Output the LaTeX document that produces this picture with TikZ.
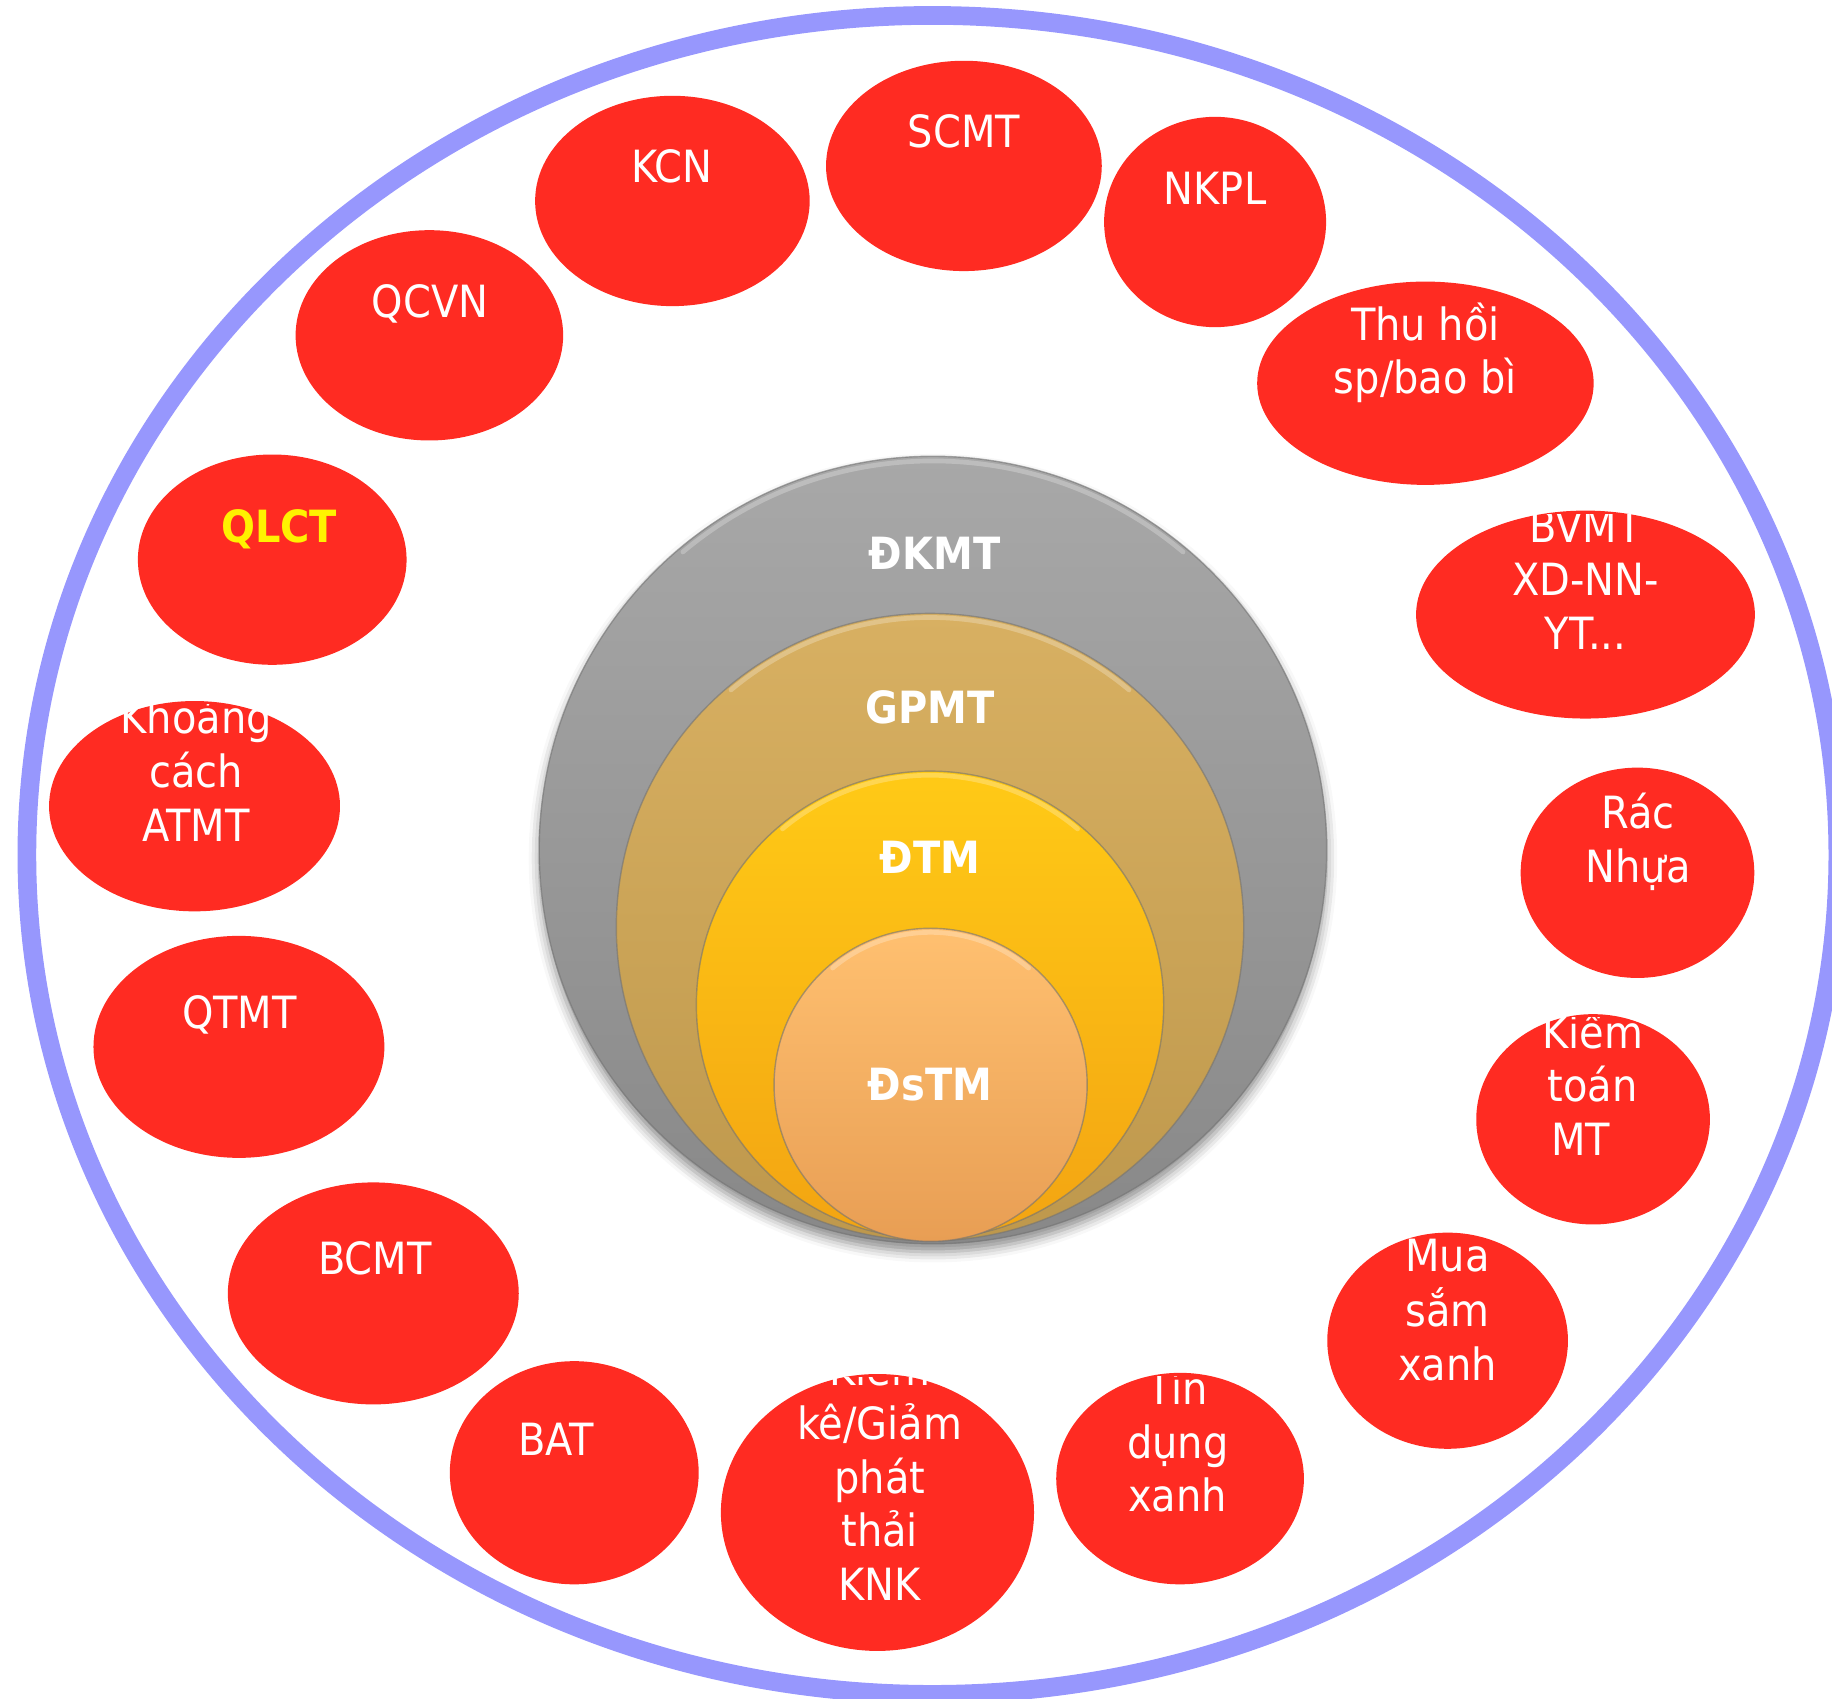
\documentclass[tikz,border=0pt]{standalone}
\usepackage{fontspec}
\setmainfont{DejaVu Sans Condensed}
\usetikzlibrary{shadows.blur}
\definecolor{ringc}{RGB}{151,151,253}
\definecolor{redc}{RGB}{255,43,34}
\definecolor{grayT}{RGB}{168,168,168}
\definecolor{grayB}{RGB}{136,136,136}
\definecolor{tanT}{RGB}{216,176,98}
\definecolor{tanB}{RGB}{190,152,76}
\definecolor{yelT}{RGB}{255,202,22}
\definecolor{yelB}{RGB}{243,164,18}
\definecolor{orT}{RGB}{255,192,112}
\definecolor{orB}{RGB}{232,158,84}
\tikzset{
  lbl/.style={text=white, font=\fontsize{38}{46}\selectfont, inner sep=0pt, anchor=base},
  clbl/.style={text=white, font=\bfseries\fontsize{38}{46}\selectfont, inner sep=0pt, anchor=base},
  edge line/.style={draw=black!55, line width=1.2pt, draw opacity=0.6},
  bevel/.style={white, line width=4pt, opacity=0.25, line cap=round}
}
% name, cx, cy, rx, ry, text x, first baseline, text
\newcommand\redblob[8]{%
  \fill[redc] (#2,#3) ellipse [x radius=#4, y radius=#5];
  \begin{scope}
    \clip (#2-300,#3-#5+3) rectangle (#2+300,#3+#5+20);
    \node[lbl] (#1) at (#6,#7) {\begin{tabular}[t]{@{}c@{}}#8\end{tabular}};
  \end{scope}}
\begin{document}
\begin{tikzpicture}[x=1pt,y=-1pt]
\useasboundingbox (0,0) rectangle (1568,1454);
\clip (0,0) rectangle (1568,1454);
% outer ring
\draw[ringc, line width=16pt] (798,731.7) ellipse [x radius=775, y radius=718.5];
% red ellipses
\redblob{scmt}{825}{142}{118}{90}{825}{126}{SCMT}
\redblob{kcn}{575.5}{172}{117.5}{90}{575}{156}{KCN}
\redblob{nkpl}{1040}{190}{95}{90}{1040}{175}{NKPL}
\redblob{qcvn}{367.5}{287}{114.5}{90}{368}{272}{QCVN}
\redblob{thuhoi}{1220}{328}{144}{87}{1220}{291}{Thu hồi\\sp/bao bì}
\redblob{qlct}{233}{479}{115}{90}{239}{464}{\bfseries\color{yellow}QLCT}
\redblob{bvmt}{1357}{526}{145}{89}{1357}{464}{BVMT\\XD-NN-\\YT...}
\redblob{khoang}{166.5}{690}{124.5}{90}{168}{628}{Khoảng\\cách\\ATMT}
\redblob{rac}{1401.5}{747}{100}{90}{1402}{709}{Rác\\Nhựa}
\redblob{qtmt}{204.5}{896}{124.5}{95}{205}{880}{QTMT}
\redblob{kiemtoan}{1363.5}{958}{100}{90}{1363}{897}{Kiểm\\toán\\MT\hspace*{20pt}}
\redblob{bcmt}{319.5}{1107}{124.5}{95}{321}{1091}{BCMT}
\redblob{muasam}{1239}{1147.5}{103}{92.5}{1239}{1088}{Mua\\sắm\\xanh}
\redblob{bat}{491.5}{1260.5}{106.5}{95.5}{476}{1246}{BAT}
\redblob{kiemke}{751}{1294.5}{134}{118.5}{753}{1186}{Kiểm\\kê/Giảm\\phát\\thải\\KNK}
\redblob{tindung}{1010}{1265.5}{106}{90.5}{1008}{1202}{Tín\\dụng\\xanh}
% central nested circles
\shade[top color=grayT, bottom color=grayB, blur shadow={shadow xshift=0pt, shadow yshift=-7pt, shadow blur radius=9pt, shadow opacity=45}]
  (798.5,727.5) circle [radius=337];
\draw[edge line] (798.5,727.5) circle [radius=337];
\draw[bevel] ([shift={(798.5,727.5)}]230:333) arc [start angle=230, end angle=310, radius=333];
\shade[top color=tanT, bottom color=tanB] (796,793.5) circle [radius=268.5];
\draw[edge line] (796,793.5) circle [radius=268.5];
\draw[bevel] ([shift={(796,793.5)}]230:265) arc [start angle=230, end angle=310, radius=265];
\shade[top color=yelT, bottom color=yelB] (796,860) circle [radius=200];
\draw[edge line] (796,860) circle [radius=200];
\draw[bevel] ([shift={(796,860)}]230:196.5) arc [start angle=230, end angle=310, radius=196.5];
\shade[top color=orT, bottom color=orB] (796.5,928.5) circle [radius=134];
\draw[edge line] (796.5,928.5) circle [radius=134];
\draw[bevel] ([shift={(796.5,928.5)}]230:130.5) arc [start angle=230, end angle=310, radius=130.5];
% central labels
\node[clbl] (dkmt) at (800,487) {ĐKMT};
\node[clbl] (gpmt) at (796,619) {GPMT};
\node[clbl] (dtm) at (796,748) {ĐTM};
\node[clbl] (dstm) at (796,942) {ĐsTM};
\end{tikzpicture}
\end{document}
